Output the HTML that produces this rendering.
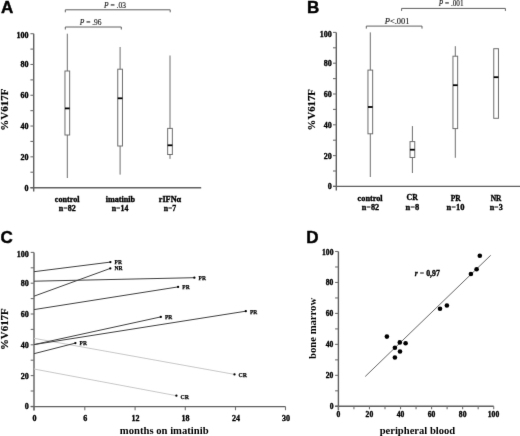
<!DOCTYPE html>
<html><head><meta charset="utf-8"><style>
html,body{margin:0;padding:0;background:#fff;}
body{width:520px;height:436px;overflow:hidden;font-family:"Liberation Serif",serif;}
svg{display:block;}
</style></head><body>
<svg width="520" height="436" viewBox="0 0 520 436">
<defs><filter id="bl" color-interpolation-filters="sRGB" x="0" y="0" width="520" height="436" filterUnits="userSpaceOnUse"><feConvolveMatrix order="3" kernelMatrix="0.0052 0.0619 0.0052 0.0619 0.7314 0.0619 0.0052 0.0619 0.0052" edgeMode="duplicate" preserveAlpha="false"/></filter></defs>
<rect width="520" height="436" fill="#fff"/>
<g filter="url(#bl)">
<text x="0.9" y="13.3" font-family="Liberation Sans" font-size="17" font-weight="bold" fill="#000" stroke="#000" stroke-width="0.45" stroke-linejoin="round">A</text>
<line x1="33.70" y1="33.70" x2="33.70" y2="191.60" stroke="#606060" stroke-width="1.4"/>
<line x1="30.40" y1="187.60" x2="33.70" y2="187.60" stroke="#707070" stroke-width="1.1"/>
<text x="24.45" y="190.53" font-family="Liberation Serif" font-size="8" font-weight="bold" font-style="normal" fill="#000" stroke="#000" stroke-width="0.35" >0</text>
<line x1="30.40" y1="172.21" x2="33.70" y2="172.21" stroke="#707070" stroke-width="1.1"/>
<line x1="30.40" y1="156.82" x2="33.70" y2="156.82" stroke="#707070" stroke-width="1.1"/>
<text x="20.45" y="159.75" font-family="Liberation Serif" font-size="8" font-weight="bold" font-style="normal" fill="#000" stroke="#000" stroke-width="0.35" >20</text>
<line x1="30.40" y1="141.43" x2="33.70" y2="141.43" stroke="#707070" stroke-width="1.1"/>
<line x1="30.40" y1="126.04" x2="33.70" y2="126.04" stroke="#707070" stroke-width="1.1"/>
<text x="20.45" y="128.97" font-family="Liberation Serif" font-size="8" font-weight="bold" font-style="normal" fill="#000" stroke="#000" stroke-width="0.35" >40</text>
<line x1="30.40" y1="110.65" x2="33.70" y2="110.65" stroke="#707070" stroke-width="1.1"/>
<line x1="30.40" y1="95.26" x2="33.70" y2="95.26" stroke="#707070" stroke-width="1.1"/>
<text x="20.45" y="98.19" font-family="Liberation Serif" font-size="8" font-weight="bold" font-style="normal" fill="#000" stroke="#000" stroke-width="0.35" >60</text>
<line x1="30.40" y1="79.87" x2="33.70" y2="79.87" stroke="#707070" stroke-width="1.1"/>
<line x1="30.40" y1="64.48" x2="33.70" y2="64.48" stroke="#707070" stroke-width="1.1"/>
<text x="20.45" y="67.41" font-family="Liberation Serif" font-size="8" font-weight="bold" font-style="normal" fill="#000" stroke="#000" stroke-width="0.35" >80</text>
<line x1="30.40" y1="49.09" x2="33.70" y2="49.09" stroke="#707070" stroke-width="1.1"/>
<line x1="30.40" y1="33.70" x2="33.70" y2="33.70" stroke="#707070" stroke-width="1.1"/>
<text x="16.45" y="37.83" font-family="Liberation Serif" font-size="8" font-weight="bold" font-style="normal" fill="#000" stroke="#000" stroke-width="0.35" >100</text>
<line x1="30.40" y1="187.80" x2="201.20" y2="187.80" stroke="#606060" stroke-width="1.4"/>
<line x1="67.30" y1="33.70" x2="67.30" y2="71.00" stroke="#6e6e6e" stroke-width="1"/>
<line x1="67.30" y1="135.00" x2="67.30" y2="178.00" stroke="#6e6e6e" stroke-width="1"/>
<rect x="64.95" y="71" width="4.70" height="64.00" fill="none" stroke="#6e6e6e" stroke-width="1"/>
<line x1="64.95" y1="108.40" x2="69.65" y2="108.40" stroke="#000" stroke-width="1.8"/>
<line x1="120.10" y1="47.00" x2="120.10" y2="69.20" stroke="#6e6e6e" stroke-width="1"/>
<line x1="120.10" y1="146.00" x2="120.10" y2="174.60" stroke="#6e6e6e" stroke-width="1"/>
<rect x="117.75" y="69.2" width="4.70" height="76.80" fill="none" stroke="#6e6e6e" stroke-width="1"/>
<line x1="117.75" y1="98.30" x2="122.45" y2="98.30" stroke="#000" stroke-width="1.8"/>
<line x1="170.00" y1="55.50" x2="170.00" y2="128.40" stroke="#6e6e6e" stroke-width="1"/>
<line x1="170.00" y1="154.50" x2="170.00" y2="158.90" stroke="#6e6e6e" stroke-width="1"/>
<rect x="167.65" y="128.4" width="4.70" height="26.10" fill="none" stroke="#6e6e6e" stroke-width="1"/>
<line x1="167.65" y1="145.30" x2="172.35" y2="145.30" stroke="#000" stroke-width="1.8"/>
<polyline points="65.3,12.3 65.3,9.8 170.2,9.8 170.2,12.3" fill="none" stroke="#606060" stroke-width="1"/>
<text x="104.10" y="7.70" font-family="Liberation Serif" font-size="7.4" font-weight="normal" font-style="normal" fill="#222" stroke="#222" stroke-width="0.15" textLength="21.77" lengthAdjust="spacingAndGlyphs"><tspan font-style="italic">P</tspan> = .03</text>
<polyline points="65.3,29.5 65.3,27.0 121.3,27.0 121.3,29.5" fill="none" stroke="#606060" stroke-width="1"/>
<text x="79.75" y="24.60" font-family="Liberation Serif" font-size="7.4" font-weight="normal" font-style="normal" fill="#222" stroke="#222" stroke-width="0.15" textLength="21.77" lengthAdjust="spacingAndGlyphs"><tspan font-style="italic">P</tspan> = .96</text>
<text x="54.85" y="201.60" font-family="Liberation Serif" font-size="8" font-weight="bold" font-style="normal" fill="#000" stroke="#000" stroke-width="0.35" textLength="24.62" lengthAdjust="spacingAndGlyphs">control</text>
<text x="58.85" y="211.00" font-family="Liberation Serif" font-size="8" font-weight="bold" font-style="normal" fill="#000" stroke="#000" stroke-width="0.35" textLength="16.99" lengthAdjust="spacingAndGlyphs">n<tspan font-weight="normal" stroke-width="0">=</tspan>82</text>
<text x="105.67" y="201.70" font-family="Liberation Serif" font-size="8" font-weight="bold" font-style="normal" fill="#000" stroke="#000" stroke-width="0.35" textLength="29.23" lengthAdjust="spacingAndGlyphs">imatinib</text>
<text x="111.75" y="211.10" font-family="Liberation Serif" font-size="8" font-weight="bold" font-style="normal" fill="#000" stroke="#000" stroke-width="0.35" textLength="16.63" lengthAdjust="spacingAndGlyphs">n<tspan font-weight="normal" stroke-width="0">=</tspan>14</text>
<text x="158.74" y="201.70" font-family="Liberation Serif" font-size="8" font-weight="bold" font-style="normal" fill="#000" stroke="#000" stroke-width="0.35" textLength="22.50" lengthAdjust="spacingAndGlyphs">rIFN&#945;</text>
<text x="163.66" y="211.10" font-family="Liberation Serif" font-size="8" font-weight="bold" font-style="normal" fill="#000" stroke="#000" stroke-width="0.35" textLength="12.55" lengthAdjust="spacingAndGlyphs">n<tspan font-weight="normal" stroke-width="0">=</tspan>7</text>
<text x="0" y="0" transform="translate(7.60,130.72) rotate(-90)" font-family="Liberation Serif" font-size="11" font-weight="bold" font-style="normal" fill="#000" stroke="#000" stroke-width="0.15" textLength="42.06" lengthAdjust="spacingAndGlyphs">%V617F</text>
<text x="306.9" y="13.3" font-family="Liberation Sans" font-size="17" font-weight="bold" fill="#000" stroke="#000" stroke-width="0.45" stroke-linejoin="round">B</text>
<line x1="336.30" y1="32.40" x2="336.30" y2="190.40" stroke="#606060" stroke-width="1.4"/>
<line x1="333.00" y1="186.40" x2="336.30" y2="186.40" stroke="#707070" stroke-width="1.1"/>
<text x="327.65" y="189.33" font-family="Liberation Serif" font-size="8" font-weight="bold" font-style="normal" fill="#000" stroke="#000" stroke-width="0.35" >0</text>
<line x1="333.00" y1="171.00" x2="336.30" y2="171.00" stroke="#707070" stroke-width="1.1"/>
<line x1="333.00" y1="155.60" x2="336.30" y2="155.60" stroke="#707070" stroke-width="1.1"/>
<text x="323.65" y="158.53" font-family="Liberation Serif" font-size="8" font-weight="bold" font-style="normal" fill="#000" stroke="#000" stroke-width="0.35" >20</text>
<line x1="333.00" y1="140.20" x2="336.30" y2="140.20" stroke="#707070" stroke-width="1.1"/>
<line x1="333.00" y1="124.80" x2="336.30" y2="124.80" stroke="#707070" stroke-width="1.1"/>
<text x="323.65" y="127.73" font-family="Liberation Serif" font-size="8" font-weight="bold" font-style="normal" fill="#000" stroke="#000" stroke-width="0.35" >40</text>
<line x1="333.00" y1="109.40" x2="336.30" y2="109.40" stroke="#707070" stroke-width="1.1"/>
<line x1="333.00" y1="94.00" x2="336.30" y2="94.00" stroke="#707070" stroke-width="1.1"/>
<text x="323.65" y="96.92" font-family="Liberation Serif" font-size="8" font-weight="bold" font-style="normal" fill="#000" stroke="#000" stroke-width="0.35" >60</text>
<line x1="333.00" y1="78.60" x2="336.30" y2="78.60" stroke="#707070" stroke-width="1.1"/>
<line x1="333.00" y1="63.20" x2="336.30" y2="63.20" stroke="#707070" stroke-width="1.1"/>
<text x="323.65" y="66.12" font-family="Liberation Serif" font-size="8" font-weight="bold" font-style="normal" fill="#000" stroke="#000" stroke-width="0.35" >80</text>
<line x1="333.00" y1="47.80" x2="336.30" y2="47.80" stroke="#707070" stroke-width="1.1"/>
<line x1="333.00" y1="32.40" x2="336.30" y2="32.40" stroke="#707070" stroke-width="1.1"/>
<text x="319.65" y="36.53" font-family="Liberation Serif" font-size="8" font-weight="bold" font-style="normal" fill="#000" stroke="#000" stroke-width="0.35" >100</text>
<line x1="333.00" y1="186.40" x2="520.00" y2="186.40" stroke="#606060" stroke-width="1.4"/>
<line x1="370.30" y1="32.40" x2="370.30" y2="70.10" stroke="#6e6e6e" stroke-width="1"/>
<line x1="370.30" y1="133.80" x2="370.30" y2="177.00" stroke="#6e6e6e" stroke-width="1"/>
<rect x="367.95" y="70.1" width="4.70" height="63.70" fill="none" stroke="#6e6e6e" stroke-width="1"/>
<line x1="367.95" y1="107.00" x2="372.65" y2="107.00" stroke="#000" stroke-width="1.8"/>
<line x1="412.40" y1="126.10" x2="412.40" y2="141.60" stroke="#6e6e6e" stroke-width="1"/>
<line x1="412.40" y1="157.50" x2="412.40" y2="173.00" stroke="#6e6e6e" stroke-width="1"/>
<rect x="410.05" y="141.6" width="4.70" height="15.90" fill="none" stroke="#6e6e6e" stroke-width="1"/>
<line x1="410.05" y1="149.70" x2="414.75" y2="149.70" stroke="#000" stroke-width="1.8"/>
<line x1="455.30" y1="46.20" x2="455.30" y2="56.20" stroke="#6e6e6e" stroke-width="1"/>
<line x1="455.30" y1="128.60" x2="455.30" y2="157.80" stroke="#6e6e6e" stroke-width="1"/>
<rect x="452.95" y="56.2" width="4.70" height="72.40" fill="none" stroke="#6e6e6e" stroke-width="1"/>
<line x1="452.95" y1="85.20" x2="457.65" y2="85.20" stroke="#000" stroke-width="1.8"/>
<rect x="493.75" y="48.7" width="4.70" height="69.60" fill="none" stroke="#6e6e6e" stroke-width="1"/>
<line x1="493.75" y1="77.20" x2="498.45" y2="77.20" stroke="#000" stroke-width="1.8"/>
<polyline points="401.6,10.9 401.6,8.4 505.4,8.4 505.4,10.9" fill="none" stroke="#606060" stroke-width="1"/>
<text x="438.80" y="5.50" font-family="Liberation Serif" font-size="7.4" font-weight="normal" font-style="normal" fill="#222" stroke="#222" stroke-width="0.15" textLength="24.75" lengthAdjust="spacingAndGlyphs"><tspan font-style="italic">P</tspan> = .001</text>
<polyline points="366.3,28.6 366.3,26.1 422,26.1 422,28.6" fill="none" stroke="#606060" stroke-width="1"/>
<text x="384.80" y="23.60" font-family="Liberation Serif" font-size="7.4" font-weight="normal" font-style="normal" fill="#222" stroke="#222" stroke-width="0.15" textLength="24.75" lengthAdjust="spacingAndGlyphs"><tspan font-style="italic">P</tspan>&lt;.001</text>
<text x="357.64" y="200.70" font-family="Liberation Serif" font-size="8" font-weight="bold" font-style="normal" fill="#000" stroke="#000" stroke-width="0.35" textLength="25.03" lengthAdjust="spacingAndGlyphs">control</text>
<text x="361.75" y="209.70" font-family="Liberation Serif" font-size="8" font-weight="bold" font-style="normal" fill="#000" stroke="#000" stroke-width="0.35" textLength="17.30" lengthAdjust="spacingAndGlyphs">n<tspan font-weight="normal" stroke-width="0">=</tspan>82</text>
<text x="406.54" y="200.30" font-family="Liberation Serif" font-size="8" font-weight="bold" font-style="normal" fill="#000" stroke="#000" stroke-width="0.35" textLength="11.20" lengthAdjust="spacingAndGlyphs">CR</text>
<text x="405.64" y="209.80" font-family="Liberation Serif" font-size="8" font-weight="bold" font-style="normal" fill="#000" stroke="#000" stroke-width="0.35" textLength="13.69" lengthAdjust="spacingAndGlyphs">n<tspan font-weight="normal" stroke-width="0">=</tspan>8</text>
<text x="450.68" y="200.50" font-family="Liberation Serif" font-size="8" font-weight="bold" font-style="normal" fill="#000" stroke="#000" stroke-width="0.35" textLength="10.04" lengthAdjust="spacingAndGlyphs">PR</text>
<text x="446.64" y="209.80" font-family="Liberation Serif" font-size="8" font-weight="bold" font-style="normal" fill="#000" stroke="#000" stroke-width="0.35" textLength="17.92" lengthAdjust="spacingAndGlyphs">n<tspan font-weight="normal" stroke-width="0">=</tspan>10</text>
<text x="490.68" y="200.60" font-family="Liberation Serif" font-size="8" font-weight="bold" font-style="normal" fill="#000" stroke="#000" stroke-width="0.35" textLength="10.75" lengthAdjust="spacingAndGlyphs">NR</text>
<text x="489.65" y="209.90" font-family="Liberation Serif" font-size="8" font-weight="bold" font-style="normal" fill="#000" stroke="#000" stroke-width="0.35" textLength="13.06" lengthAdjust="spacingAndGlyphs">n<tspan font-weight="normal" stroke-width="0">=</tspan>3</text>
<text x="0" y="0" transform="translate(314.60,130.40) rotate(-90)" font-family="Liberation Serif" font-size="11" font-weight="bold" font-style="normal" fill="#000" stroke="#000" stroke-width="0.15" textLength="41.33" lengthAdjust="spacingAndGlyphs">%V617F</text>
<text x="0.6" y="242.5" font-family="Liberation Sans" font-size="17" font-weight="bold" fill="#000" stroke="#000" stroke-width="0.45" stroke-linejoin="round">C</text>
<line x1="34.00" y1="252.40" x2="34.00" y2="410.40" stroke="#606060" stroke-width="1.4"/>
<line x1="30.70" y1="406.40" x2="34.00" y2="406.40" stroke="#707070" stroke-width="1.1"/>
<text x="24.65" y="409.32" font-family="Liberation Serif" font-size="8" font-weight="bold" font-style="normal" fill="#000" stroke="#000" stroke-width="0.35" >0</text>
<line x1="30.70" y1="391.00" x2="34.00" y2="391.00" stroke="#707070" stroke-width="1.1"/>
<line x1="30.70" y1="375.60" x2="34.00" y2="375.60" stroke="#707070" stroke-width="1.1"/>
<text x="20.65" y="378.52" font-family="Liberation Serif" font-size="8" font-weight="bold" font-style="normal" fill="#000" stroke="#000" stroke-width="0.35" >20</text>
<line x1="30.70" y1="360.20" x2="34.00" y2="360.20" stroke="#707070" stroke-width="1.1"/>
<line x1="30.70" y1="344.80" x2="34.00" y2="344.80" stroke="#707070" stroke-width="1.1"/>
<text x="20.65" y="347.72" font-family="Liberation Serif" font-size="8" font-weight="bold" font-style="normal" fill="#000" stroke="#000" stroke-width="0.35" >40</text>
<line x1="30.70" y1="329.40" x2="34.00" y2="329.40" stroke="#707070" stroke-width="1.1"/>
<line x1="30.70" y1="314.00" x2="34.00" y2="314.00" stroke="#707070" stroke-width="1.1"/>
<text x="20.65" y="316.93" font-family="Liberation Serif" font-size="8" font-weight="bold" font-style="normal" fill="#000" stroke="#000" stroke-width="0.35" >60</text>
<line x1="30.70" y1="298.60" x2="34.00" y2="298.60" stroke="#707070" stroke-width="1.1"/>
<line x1="30.70" y1="283.20" x2="34.00" y2="283.20" stroke="#707070" stroke-width="1.1"/>
<text x="20.65" y="286.12" font-family="Liberation Serif" font-size="8" font-weight="bold" font-style="normal" fill="#000" stroke="#000" stroke-width="0.35" >80</text>
<line x1="30.70" y1="267.80" x2="34.00" y2="267.80" stroke="#707070" stroke-width="1.1"/>
<line x1="30.70" y1="252.40" x2="34.00" y2="252.40" stroke="#707070" stroke-width="1.1"/>
<text x="16.65" y="256.52" font-family="Liberation Serif" font-size="8" font-weight="bold" font-style="normal" fill="#000" stroke="#000" stroke-width="0.35" >100</text>
<line x1="30.70" y1="406.60" x2="285.50" y2="406.60" stroke="#606060" stroke-width="1.4"/>
<line x1="34.00" y1="406.60" x2="34.00" y2="410.20" stroke="#707070" stroke-width="1.1"/>
<text x="32.50" y="420.62" font-family="Liberation Serif" font-size="8" font-weight="bold" font-style="normal" fill="#000" stroke="#000" stroke-width="0.35" >0</text>
<line x1="84.80" y1="406.60" x2="84.80" y2="410.20" stroke="#707070" stroke-width="1.1"/>
<text x="83.30" y="420.62" font-family="Liberation Serif" font-size="8" font-weight="bold" font-style="normal" fill="#000" stroke="#000" stroke-width="0.35" >6</text>
<line x1="135.10" y1="406.60" x2="135.10" y2="410.20" stroke="#707070" stroke-width="1.1"/>
<text x="131.47" y="420.62" font-family="Liberation Serif" font-size="8" font-weight="bold" font-style="normal" fill="#000" stroke="#000" stroke-width="0.35" >12</text>
<line x1="185.30" y1="406.60" x2="185.30" y2="410.20" stroke="#707070" stroke-width="1.1"/>
<text x="181.61" y="420.62" font-family="Liberation Serif" font-size="8" font-weight="bold" font-style="normal" fill="#000" stroke="#000" stroke-width="0.35" >18</text>
<line x1="235.50" y1="406.60" x2="235.50" y2="410.20" stroke="#707070" stroke-width="1.1"/>
<text x="231.88" y="420.62" font-family="Liberation Serif" font-size="8" font-weight="bold" font-style="normal" fill="#000" stroke="#000" stroke-width="0.35" >24</text>
<line x1="285.50" y1="406.60" x2="285.50" y2="410.20" stroke="#707070" stroke-width="1.1"/>
<text x="282.00" y="420.62" font-family="Liberation Serif" font-size="8" font-weight="bold" font-style="normal" fill="#000" stroke="#000" stroke-width="0.35" >30</text>
<text x="119.85" y="433.90" font-family="Liberation Serif" font-size="10.5" font-weight="bold" font-style="normal" fill="#000"  textLength="88.76" lengthAdjust="spacingAndGlyphs">months on imatinib</text>
<text x="0" y="0" transform="translate(7.80,350.01) rotate(-90)" font-family="Liberation Serif" font-size="11" font-weight="bold" font-style="normal" fill="#000" stroke="#000" stroke-width="0.15" textLength="41.64" lengthAdjust="spacingAndGlyphs">%V617F</text>
<line x1="34.00" y1="338.30" x2="234.50" y2="374.40" stroke="#c8c8c8" stroke-width="1"/>
<line x1="34.00" y1="369.00" x2="176.40" y2="395.70" stroke="#c8c8c8" stroke-width="1"/>
<line x1="34.00" y1="271.70" x2="110.40" y2="262.10" stroke="#404040" stroke-width="1"/>
<line x1="34.00" y1="296.20" x2="110.30" y2="268.40" stroke="#404040" stroke-width="1"/>
<line x1="34.00" y1="281.20" x2="194.40" y2="277.70" stroke="#404040" stroke-width="1"/>
<line x1="34.00" y1="309.60" x2="178.10" y2="286.90" stroke="#404040" stroke-width="1"/>
<line x1="34.00" y1="344.60" x2="160.80" y2="316.90" stroke="#404040" stroke-width="1"/>
<line x1="34.00" y1="344.60" x2="245.80" y2="311.20" stroke="#404040" stroke-width="1"/>
<line x1="34.00" y1="353.70" x2="75.40" y2="343.10" stroke="#404040" stroke-width="1"/>
<circle cx="234.5" cy="374.4" r="1.15" fill="#000"/>
<text x="238.57" y="376.96" font-family="Liberation Serif" font-size="6.3" font-weight="bold" font-style="normal" fill="#000" stroke="#000" stroke-width="0.25" textLength="8.41" lengthAdjust="spacingAndGlyphs">CR</text>
<circle cx="176.4" cy="395.7" r="1.15" fill="#000"/>
<text x="180.47" y="399.06" font-family="Liberation Serif" font-size="6.3" font-weight="bold" font-style="normal" fill="#000" stroke="#000" stroke-width="0.25" textLength="8.41" lengthAdjust="spacingAndGlyphs">CR</text>
<circle cx="110.4" cy="262.1" r="1.15" fill="#000"/>
<text x="114.59" y="263.96" font-family="Liberation Serif" font-size="6.3" font-weight="bold" font-style="normal" fill="#000" stroke="#000" stroke-width="0.25" textLength="7.32" lengthAdjust="spacingAndGlyphs">PR</text>
<circle cx="110.3" cy="268.4" r="1.15" fill="#000"/>
<text x="114.49" y="270.06" font-family="Liberation Serif" font-size="6.3" font-weight="bold" font-style="normal" fill="#000" stroke="#000" stroke-width="0.25" textLength="8.09" lengthAdjust="spacingAndGlyphs">NR</text>
<circle cx="194.4" cy="277.7" r="1.15" fill="#000"/>
<text x="198.59" y="279.96" font-family="Liberation Serif" font-size="6.3" font-weight="bold" font-style="normal" fill="#000" stroke="#000" stroke-width="0.25" textLength="7.32" lengthAdjust="spacingAndGlyphs">PR</text>
<circle cx="178.1" cy="286.9" r="1.15" fill="#000"/>
<text x="182.29" y="288.96" font-family="Liberation Serif" font-size="6.3" font-weight="bold" font-style="normal" fill="#000" stroke="#000" stroke-width="0.25" textLength="7.32" lengthAdjust="spacingAndGlyphs">PR</text>
<circle cx="160.8" cy="316.9" r="1.15" fill="#000"/>
<text x="164.99" y="319.16" font-family="Liberation Serif" font-size="6.3" font-weight="bold" font-style="normal" fill="#000" stroke="#000" stroke-width="0.25" textLength="7.32" lengthAdjust="spacingAndGlyphs">PR</text>
<circle cx="245.8" cy="311.2" r="1.15" fill="#000"/>
<text x="249.99" y="313.66" font-family="Liberation Serif" font-size="6.3" font-weight="bold" font-style="normal" fill="#000" stroke="#000" stroke-width="0.25" textLength="7.32" lengthAdjust="spacingAndGlyphs">PR</text>
<circle cx="75.4" cy="343.1" r="1.15" fill="#000"/>
<text x="79.59" y="345.26" font-family="Liberation Serif" font-size="6.3" font-weight="bold" font-style="normal" fill="#000" stroke="#000" stroke-width="0.25" textLength="7.32" lengthAdjust="spacingAndGlyphs">PR</text>
<text x="306.3" y="242.7" font-family="Liberation Sans" font-size="17" font-weight="bold" fill="#000" stroke="#000" stroke-width="0.45" stroke-linejoin="round">D</text>
<line x1="338.40" y1="251.50" x2="338.40" y2="410.30" stroke="#606060" stroke-width="1.4"/>
<line x1="335.10" y1="406.30" x2="338.40" y2="406.30" stroke="#707070" stroke-width="1.1"/>
<text x="329.70" y="408.60" font-family="Liberation Serif" font-size="7.6" font-weight="bold" font-style="normal" fill="#000" stroke="#000" stroke-width="0.35" >0</text>
<line x1="335.10" y1="390.82" x2="338.40" y2="390.82" stroke="#707070" stroke-width="1.1"/>
<line x1="335.10" y1="375.34" x2="338.40" y2="375.34" stroke="#707070" stroke-width="1.1"/>
<text x="325.82" y="377.64" font-family="Liberation Serif" font-size="7.6" font-weight="bold" font-style="normal" fill="#000" stroke="#000" stroke-width="0.35" >20</text>
<line x1="335.10" y1="359.86" x2="338.40" y2="359.86" stroke="#707070" stroke-width="1.1"/>
<line x1="335.10" y1="344.38" x2="338.40" y2="344.38" stroke="#707070" stroke-width="1.1"/>
<text x="325.82" y="346.68" font-family="Liberation Serif" font-size="7.6" font-weight="bold" font-style="normal" fill="#000" stroke="#000" stroke-width="0.35" >40</text>
<line x1="335.10" y1="328.90" x2="338.40" y2="328.90" stroke="#707070" stroke-width="1.1"/>
<line x1="335.10" y1="313.42" x2="338.40" y2="313.42" stroke="#707070" stroke-width="1.1"/>
<text x="325.82" y="315.72" font-family="Liberation Serif" font-size="7.6" font-weight="bold" font-style="normal" fill="#000" stroke="#000" stroke-width="0.35" >60</text>
<line x1="335.10" y1="297.94" x2="338.40" y2="297.94" stroke="#707070" stroke-width="1.1"/>
<line x1="335.10" y1="282.46" x2="338.40" y2="282.46" stroke="#707070" stroke-width="1.1"/>
<text x="325.82" y="284.76" font-family="Liberation Serif" font-size="7.6" font-weight="bold" font-style="normal" fill="#000" stroke="#000" stroke-width="0.35" >80</text>
<line x1="335.10" y1="266.98" x2="338.40" y2="266.98" stroke="#707070" stroke-width="1.1"/>
<line x1="335.10" y1="251.50" x2="338.40" y2="251.50" stroke="#707070" stroke-width="1.1"/>
<text x="322.07" y="254.60" font-family="Liberation Serif" font-size="7.6" font-weight="bold" font-style="normal" fill="#000" stroke="#000" stroke-width="0.35" >100</text>
<line x1="335.10" y1="406.30" x2="493.70" y2="406.30" stroke="#606060" stroke-width="1.4"/>
<line x1="338.40" y1="406.30" x2="338.40" y2="409.30" stroke="#707070" stroke-width="1.1"/>
<text x="336.52" y="417.10" font-family="Liberation Serif" font-size="7.6" font-weight="bold" font-style="normal" fill="#000" stroke="#000" stroke-width="0.35" >0</text>
<line x1="353.93" y1="406.30" x2="353.93" y2="409.30" stroke="#707070" stroke-width="1.1"/>
<line x1="369.46" y1="406.30" x2="369.46" y2="409.30" stroke="#707070" stroke-width="1.1"/>
<text x="365.58" y="417.10" font-family="Liberation Serif" font-size="7.6" font-weight="bold" font-style="normal" fill="#000" stroke="#000" stroke-width="0.35" >20</text>
<line x1="384.99" y1="406.30" x2="384.99" y2="409.30" stroke="#707070" stroke-width="1.1"/>
<line x1="400.52" y1="406.30" x2="400.52" y2="409.30" stroke="#707070" stroke-width="1.1"/>
<text x="396.77" y="417.10" font-family="Liberation Serif" font-size="7.6" font-weight="bold" font-style="normal" fill="#000" stroke="#000" stroke-width="0.35" >40</text>
<line x1="416.05" y1="406.30" x2="416.05" y2="409.30" stroke="#707070" stroke-width="1.1"/>
<line x1="431.58" y1="406.30" x2="431.58" y2="409.30" stroke="#707070" stroke-width="1.1"/>
<text x="427.77" y="417.10" font-family="Liberation Serif" font-size="7.6" font-weight="bold" font-style="normal" fill="#000" stroke="#000" stroke-width="0.35" >60</text>
<line x1="447.11" y1="406.30" x2="447.11" y2="409.30" stroke="#707070" stroke-width="1.1"/>
<line x1="462.64" y1="406.30" x2="462.64" y2="409.30" stroke="#707070" stroke-width="1.1"/>
<text x="458.83" y="417.10" font-family="Liberation Serif" font-size="7.6" font-weight="bold" font-style="normal" fill="#000" stroke="#000" stroke-width="0.35" >80</text>
<line x1="478.17" y1="406.30" x2="478.17" y2="409.30" stroke="#707070" stroke-width="1.1"/>
<line x1="493.70" y1="406.30" x2="493.70" y2="409.30" stroke="#707070" stroke-width="1.1"/>
<text x="487.82" y="417.10" font-family="Liberation Serif" font-size="7.6" font-weight="bold" font-style="normal" fill="#000" stroke="#000" stroke-width="0.35" >100</text>
<text x="379.67" y="433.60" font-family="Liberation Serif" font-size="10.5" font-weight="bold" font-style="normal" fill="#000"  textLength="75.52" lengthAdjust="spacingAndGlyphs">peripheral blood</text>
<text x="0" y="0" transform="translate(315.70,358.92) rotate(-90)" font-family="Liberation Serif" font-size="10.8" font-weight="bold" font-style="normal" fill="#000"  textLength="61.04" lengthAdjust="spacingAndGlyphs">bone marrow</text>
<line x1="365.20" y1="376.50" x2="490.70" y2="255.30" stroke="#666666" stroke-width="1"/>
<circle cx="386.9" cy="336.6" r="2.3" fill="#000"/>
<circle cx="399.8" cy="342.4" r="2.3" fill="#000"/>
<circle cx="405.6" cy="343.3" r="2.3" fill="#000"/>
<circle cx="394.9" cy="347.8" r="2.3" fill="#000"/>
<circle cx="400" cy="351.5" r="2.3" fill="#000"/>
<circle cx="394.9" cy="357.5" r="2.3" fill="#000"/>
<circle cx="479.8" cy="255.7" r="2.3" fill="#000"/>
<circle cx="476.6" cy="269.2" r="2.3" fill="#000"/>
<circle cx="470.9" cy="274" r="2.3" fill="#000"/>
<circle cx="446.9" cy="305.5" r="2.3" fill="#000"/>
<circle cx="440" cy="308.7" r="2.3" fill="#000"/>
<text x="414.78" y="275.90" font-family="Liberation Serif" font-size="8" font-weight="bold" font-style="normal" fill="#000" stroke="#000" stroke-width="0.35" textLength="25.07" lengthAdjust="spacingAndGlyphs"><tspan font-style="italic">r</tspan> <tspan font-weight="normal" stroke-width="0">=</tspan> 0,97</text>
</g>
</svg>
</body></html>
